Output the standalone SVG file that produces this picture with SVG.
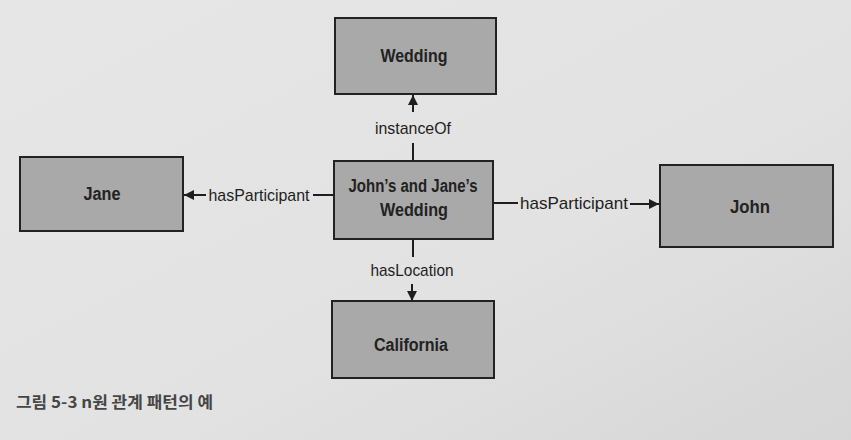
<svg xmlns="http://www.w3.org/2000/svg" width="851" height="440" viewBox="0 0 851 440">
<defs>
<linearGradient id="bg" x1="0" y1="0" x2="1" y2="1">
<stop offset="0" stop-color="#e6e6e6"/>
<stop offset="0.6" stop-color="#e2e2e2"/>
<stop offset="1" stop-color="#d6d6d6"/>
</linearGradient>
<marker id="arr" viewBox="0 0 10 10" refX="10" refY="5" markerWidth="10" markerHeight="10" markerUnits="userSpaceOnUse" orient="auto">
<path d="M0,0 L10,5 L0,10 Z" fill="#1e1e1e"/>
</marker>
<style>
.box{fill:#a9a9a9;stroke:#222;stroke-width:2}
.lbl{font-family:"Liberation Sans",Arial,sans-serif;font-weight:bold;font-size:18px;fill:#222;text-anchor:middle}
.edge{font-family:"Liberation Sans",Arial,sans-serif;font-size:17px;fill:#1e1e1e;text-anchor:middle}
.ln{stroke:#1e1e1e;stroke-width:2;fill:none}
.cap{font-family:"Noto Sans CJK KR","Liberation Sans",sans-serif;font-size:16px;font-weight:bold;fill:#464646}
</style>
</defs>
<rect width="851" height="440" fill="url(#bg)"/>
<g id="connectors">
<line class="ln" x1="413" y1="160" x2="413" y2="143"/>
<line class="ln" x1="413" y1="112" x2="413" y2="95" marker-end="url(#arr)"/>
<text class="edge" x="413" y="134" textLength="76" lengthAdjust="spacingAndGlyphs">instanceOf</text>
<line class="ln" x1="333" y1="195" x2="313" y2="195"/>
<line class="ln" x1="206" y1="195" x2="184" y2="195" marker-end="url(#arr)"/>
<text class="edge" x="259" y="201" textLength="101" lengthAdjust="spacingAndGlyphs">hasParticipant</text>
<line class="ln" x1="494" y1="203" x2="518" y2="203"/>
<line class="ln" x1="630" y1="204" x2="659" y2="204" marker-end="url(#arr)"/>
<text class="edge" x="574" y="209" textLength="108" lengthAdjust="spacingAndGlyphs">hasParticipant</text>
<line class="ln" x1="413" y1="239" x2="413" y2="257"/>
<line class="ln" x1="412" y1="284" x2="412" y2="301" marker-end="url(#arr)"/>
<text class="edge" x="412" y="276" textLength="83" lengthAdjust="spacingAndGlyphs">hasLocation</text>
</g>
<g id="wedding">
<rect class="box" x="335" y="18" width="161" height="76"/>
<text class="lbl" x="414" y="62" textLength="67" lengthAdjust="spacingAndGlyphs">Wedding</text>
</g>
<g id="jane">
<rect class="box" x="20" y="157" width="163" height="74"/>
<text class="lbl" x="102" y="200" textLength="37" lengthAdjust="spacingAndGlyphs">Jane</text>
</g>
<g id="johns-and-janes-wedding">
<rect class="box" x="334" y="161" width="159" height="78"/>
<text class="lbl" x="413" y="192" textLength="129" lengthAdjust="spacingAndGlyphs">John’s and Jane’s</text>
<text class="lbl" x="414" y="216" textLength="68" lengthAdjust="spacingAndGlyphs">Wedding</text>
</g>
<g id="john">
<rect class="box" x="660" y="165" width="173" height="82"/>
<text class="lbl" x="750" y="213" textLength="40" lengthAdjust="spacingAndGlyphs">John</text>
</g>
<g id="california">
<rect class="box" x="332" y="301" width="162" height="77"/>
<text class="lbl" x="411" y="351" textLength="74" lengthAdjust="spacingAndGlyphs">California</text>
</g>
<text class="cap" x="16" y="408" textLength="197" lengthAdjust="spacingAndGlyphs">그림 5-3 n원 관계 패턴의 예</text>
</svg>
